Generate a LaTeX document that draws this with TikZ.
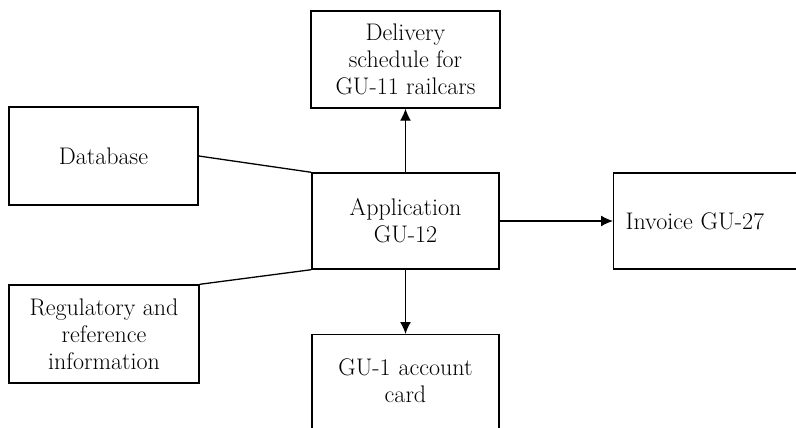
\documentclass[tikz,border=0pt]{standalone}
\usetikzlibrary{arrows.meta}

\begin{document}
\begin{tikzpicture}[x=1pt, y=-1pt, >={Latex[length=12pt,width=11pt]},
  box/.style={draw, line width=1.4pt, align=center, inner sep=0pt,
    font=\fontsize{24}{27}\selectfont},
  link/.style={line width=1.3pt}]
  % Frame of the picture (boxes on the right and bottom run off it)
  \useasboundingbox (0,0) rectangle (796,428);
  \clip (0,0) rectangle (796,428);

  % Central block
  \node[box, minimum width=187, minimum height=96] (app) at (405.5,221) {Application\\GU-12};

  % Inputs on the left
  \node[box, minimum width=189, minimum height=98] (db) at (103.5,156) {Database};
  \node[box, minimum width=190, minimum height=98] (reg) at (104,334)
    {Regulatory and\\reference\\information};

  % Outputs
  \node[box, minimum width=189, minimum height=97] (sched) at (405.5,59.5)
    {Delivery\\schedule for\\GU-11 railcars};
  \node[box, anchor=west, minimum height=96, text width=190, align=left,
    inner xsep=12pt] (inv) at (613,221) {Invoice GU-27};
  \node[box, anchor=north, text width=187, inner ysep=24pt, text depth=120pt]
    (card) at (405.5,334) {GU-1 account\\card};

  % Connectors
  \draw[link] (db.east) -- (app.north west);
  \draw[link] (reg.north east) -- (app.south west);
  \draw[link,->] (app.north) -- (sched.south);
  \draw[link,->] (app.south) -- (card.north);
  \draw[link,->] (app.east) -- (inv.west);
\end{tikzpicture}
\end{document}
